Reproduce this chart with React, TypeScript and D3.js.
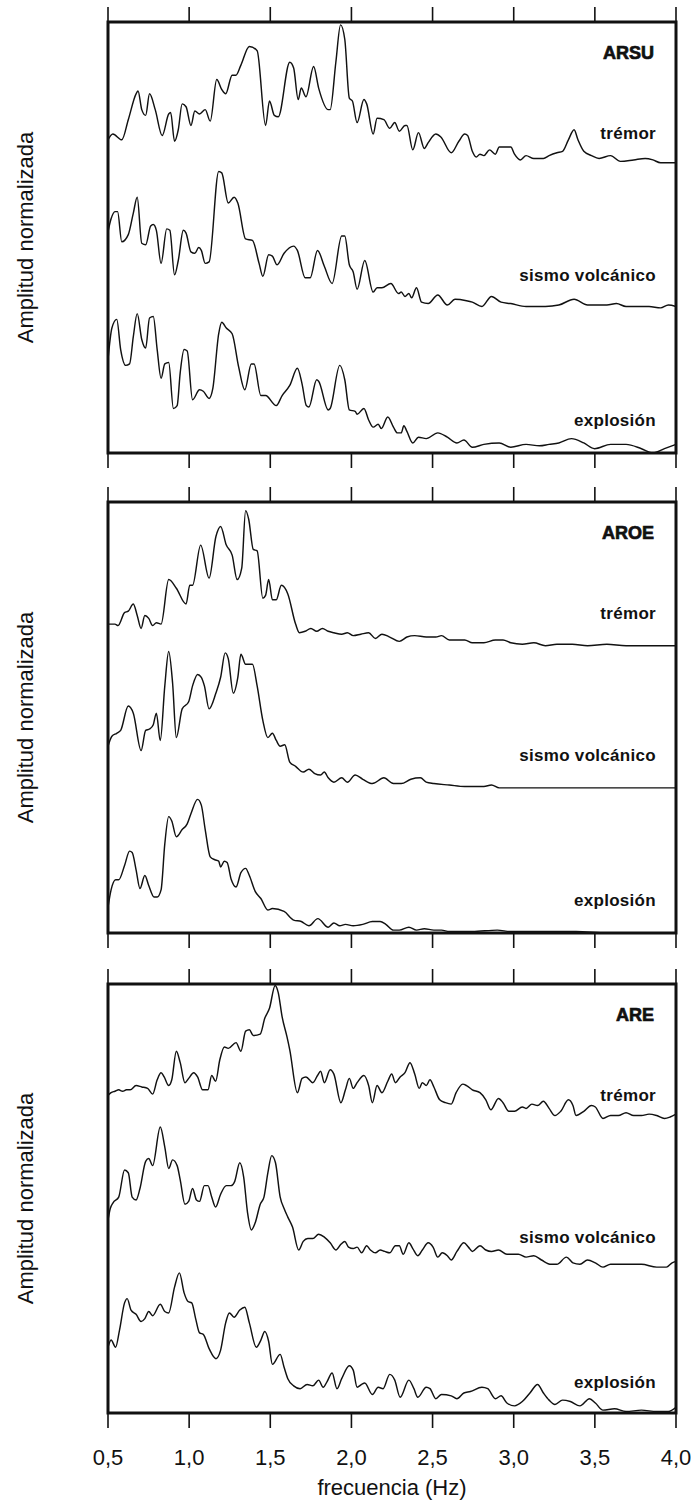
import React from "react";
import * as d3 from "d3";

// Normalized amplitude spectra, [frequency (Hz), amplitude 0..1]
const arsuTremor: [number, number][] = [[0.5,0.18],[0.53,0.22],[0.585,0.18],[0.625,0.32],[0.673,0.50],[0.685,0.52],[0.708,0.39],[0.732,0.35],[0.756,0.50],[0.791,0.39],[0.834,0.21],[0.874,0.36],[0.886,0.37],[0.91,0.17],[0.933,0.25],[0.957,0.43],[0.981,0.41],[1.011,0.28],[1.035,0.38],[1.064,0.36],[1.099,0.39],[1.13,0.31],[1.17,0.60],[1.201,0.53],[1.225,0.50],[1.265,0.63],[1.289,0.63],[1.319,0.70],[1.371,0.83],[1.419,0.80],[1.471,0.28],[1.495,0.45],[1.525,0.35],[1.549,0.34],[1.62,0.72],[1.644,0.68],[1.672,0.46],[1.691,0.54],[1.72,0.48],[1.767,0.69],[1.798,0.54],[1.857,0.39],[1.869,0.39],[1.904,0.72],[1.933,0.98],[1.959,0.88],[1.987,0.47],[2.006,0.45],[2.035,0.30],[2.077,0.46],[2.094,0.43],[2.134,0.22],[2.158,0.33],[2.20,0.32],[2.236,0.26],[2.267,0.30],[2.295,0.24],[2.33,0.28],[2.342,0.28],[2.378,0.11],[2.413,0.23],[2.449,0.12],[2.473,0.16],[2.52,0.22],[2.551,0.20],[2.615,0.09],[2.662,0.17],[2.698,0.22],[2.716,0.21],[2.745,0.10],[2.769,0.06],[2.792,0.08],[2.816,0.07],[2.851,0.11],[2.887,0.08],[2.911,0.13],[2.958,0.13],[2.982,0.13],[3.005,0.08],[3.041,0.04],[3.076,0.07],[3.124,0.05],[3.183,0.05],[3.218,0.07],[3.266,0.09],[3.301,0.10],[3.337,0.18],[3.372,0.25],[3.396,0.18],[3.432,0.10],[3.479,0.07],[3.526,0.05],[3.597,0.07],[3.657,0.03],[3.739,0.04],[3.81,0.05],[3.858,0.04],[3.905,0.02],[4.0,0.02]];

const arsuSismo: [number, number][] = [[0.5,0.54],[0.519,0.63],[0.543,0.68],[0.559,0.68],[0.585,0.47],[0.625,0.52],[0.656,0.67],[0.68,0.78],[0.708,0.46],[0.732,0.45],[0.763,0.58],[0.779,0.59],[0.798,0.55],[0.827,0.32],[0.862,0.56],[0.881,0.55],[0.91,0.24],[0.933,0.34],[0.964,0.55],[0.981,0.53],[1.011,0.40],[1.035,0.39],[1.059,0.43],[1.075,0.41],[1.099,0.32],[1.123,0.33],[1.182,0.96],[1.201,0.95],[1.241,0.74],[1.277,0.78],[1.30,0.74],[1.348,0.49],[1.39,0.48],[1.431,0.32],[1.454,0.23],[1.49,0.38],[1.513,0.37],[1.542,0.31],[1.585,0.39],[1.644,0.44],[1.667,0.41],[1.715,0.22],[1.746,0.22],[1.791,0.41],[1.833,0.30],[1.881,0.18],[1.94,0.51],[1.959,0.51],[1.987,0.31],[2.011,0.26],[2.035,0.14],[2.082,0.34],[2.134,0.12],[2.158,0.15],[2.188,0.15],[2.243,0.18],[2.29,0.11],[2.307,0.12],[2.33,0.09],[2.354,0.11],[2.371,0.08],[2.401,0.15],[2.432,0.05],[2.473,0.04],[2.532,0.10],[2.591,0.03],[2.638,0.07],[2.709,0.06],[2.745,0.05],[2.804,0.02],[2.863,0.09],[2.922,0.05],[2.982,0.04],[3.076,0.02],[3.195,0.02],[3.278,0.03],[3.372,0.07],[3.455,0.03],[3.574,0.03],[3.633,0.04],[3.692,0.02],[3.763,0.02],[3.834,0.02],[3.905,0.01],[3.953,0.03],[4.0,0.02]];

const arsuExplosion: [number, number][] = [[0.5,0.65],[0.524,0.87],[0.554,0.93],[0.578,0.72],[0.609,0.61],[0.633,0.62],[0.656,0.81],[0.68,0.97],[0.708,0.79],[0.732,0.73],[0.756,0.94],[0.779,0.95],[0.803,0.72],[0.827,0.52],[0.85,0.62],[0.874,0.63],[0.903,0.31],[0.926,0.33],[0.945,0.56],[0.969,0.72],[0.988,0.71],[1.021,0.37],[1.064,0.44],[1.087,0.43],[1.123,0.38],[1.146,0.45],[1.182,0.83],[1.201,0.91],[1.229,0.87],[1.265,0.83],[1.305,0.60],[1.343,0.44],[1.383,0.62],[1.40,0.62],[1.442,0.40],[1.471,0.40],[1.537,0.33],[1.573,0.40],[1.62,0.47],[1.667,0.59],[1.696,0.48],[1.722,0.33],[1.738,0.32],[1.786,0.51],[1.798,0.50],[1.857,0.30],[1.869,0.31],[1.928,0.61],[1.959,0.51],[1.987,0.30],[2.023,0.29],[2.035,0.27],[2.077,0.31],[2.106,0.23],[2.134,0.18],[2.165,0.20],[2.184,0.17],[2.224,0.25],[2.259,0.18],[2.283,0.14],[2.307,0.14],[2.323,0.19],[2.342,0.15],[2.378,0.07],[2.413,0.11],[2.461,0.10],[2.532,0.14],[2.591,0.11],[2.65,0.07],[2.693,0.09],[2.745,0.04],[2.816,0.06],[2.911,0.07],[2.982,0.04],[3.076,0.06],[3.159,0.05],[3.218,0.06],[3.278,0.07],[3.356,0.10],[3.432,0.07],[3.498,0.03],[3.597,0.06],[3.692,0.06],[3.787,0.03],[3.858,0.0],[3.929,0.03],[4.0,0.06]];

const aroeTremor: [number, number][] = [[0.5,0.15],[0.543,0.15],[0.562,0.14],[0.602,0.23],[0.625,0.24],[0.656,0.29],[0.68,0.21],[0.704,0.12],[0.727,0.21],[0.751,0.19],[0.775,0.14],[0.798,0.16],[0.827,0.15],[0.874,0.46],[0.921,0.40],[0.981,0.29],[1.004,0.42],[1.021,0.42],[1.071,0.70],[1.123,0.47],[1.165,0.76],[1.194,0.83],[1.229,0.70],[1.265,0.63],[1.296,0.46],[1.324,0.54],[1.348,0.94],[1.367,0.88],[1.395,0.67],[1.419,0.66],[1.454,0.33],[1.471,0.35],[1.49,0.46],[1.513,0.32],[1.537,0.32],[1.568,0.42],[1.608,0.36],[1.656,0.15],[1.679,0.09],[1.715,0.10],[1.75,0.12],[1.786,0.10],[1.821,0.12],[1.857,0.10],[1.892,0.09],[1.94,0.08],[1.975,0.09],[2.011,0.07],[2.058,0.08],[2.106,0.09],[2.148,0.05],[2.188,0.08],[2.236,0.06],[2.295,0.03],[2.342,0.06],[2.39,0.07],[2.461,0.06],[2.52,0.06],[2.555,0.07],[2.603,0.04],[2.65,0.04],[2.698,0.04],[2.745,0.02],[2.816,0.02],[2.887,0.04],[2.934,0.04],[2.982,0.02],[3.053,0.01],[3.124,0.02],[3.195,0.0],[3.266,0.01],[3.361,0.01],[3.455,0.0],[3.574,0.01],[3.692,0.0],[3.81,0.0],[3.929,0.0],[4.0,0.0]];

const aroeSismo: [number, number][] = [[0.5,0.30],[0.524,0.37],[0.554,0.39],[0.578,0.41],[0.625,0.58],[0.656,0.53],[0.704,0.27],[0.732,0.41],[0.756,0.42],[0.779,0.45],[0.798,0.53],[0.822,0.34],[0.85,0.72],[0.874,0.96],[0.898,0.74],[0.921,0.36],[0.957,0.56],[0.997,0.61],[1.021,0.72],[1.052,0.80],[1.075,0.78],[1.094,0.72],[1.123,0.56],[1.165,0.67],[1.194,0.78],[1.222,0.95],[1.241,0.91],[1.272,0.67],[1.30,0.78],[1.319,0.94],[1.348,0.87],[1.39,0.87],[1.419,0.72],[1.454,0.48],[1.485,0.36],[1.513,0.39],[1.537,0.34],[1.561,0.30],[1.589,0.31],[1.62,0.19],[1.656,0.16],[1.703,0.12],[1.738,0.14],[1.774,0.11],[1.81,0.10],[1.833,0.12],[1.857,0.08],[1.892,0.05],[1.94,0.08],[1.975,0.05],[2.023,0.10],[2.07,0.07],[2.129,0.04],[2.20,0.08],[2.259,0.04],[2.307,0.04],[2.366,0.07],[2.425,0.08],[2.461,0.05],[2.508,0.04],[2.603,0.03],[2.698,0.02],[2.816,0.02],[2.863,0.03],[2.911,0.01],[3.029,0.01],[3.218,0.01],[3.455,0.01],[3.692,0.01],[4.0,0.01]];

const aroeExplosion: [number, number][] = [[0.5,0.18],[0.519,0.30],[0.547,0.37],[0.566,0.37],[0.602,0.47],[0.633,0.57],[0.649,0.56],[0.673,0.44],[0.697,0.31],[0.727,0.40],[0.751,0.33],[0.784,0.25],[0.803,0.25],[0.827,0.30],[0.85,0.62],[0.874,0.81],[0.893,0.78],[0.921,0.67],[0.957,0.72],[0.988,0.76],[1.011,0.83],[1.052,0.93],[1.075,0.89],[1.099,0.72],[1.13,0.53],[1.158,0.51],[1.182,0.50],[1.194,0.46],[1.217,0.50],[1.234,0.49],[1.26,0.37],[1.289,0.32],[1.319,0.42],[1.348,0.45],[1.371,0.40],[1.407,0.29],[1.442,0.24],[1.485,0.16],[1.513,0.17],[1.585,0.15],[1.644,0.09],[1.691,0.08],[1.738,0.05],[1.793,0.10],[1.857,0.04],[1.892,0.07],[1.928,0.05],[1.963,0.06],[2.011,0.05],[2.07,0.06],[2.129,0.08],[2.177,0.08],[2.212,0.06],[2.259,0.02],[2.295,0.02],[2.354,0.04],[2.401,0.02],[2.449,0.03],[2.508,0.02],[2.555,0.02],[2.603,0.01],[2.674,0.01],[2.745,0.01],[2.899,0.02],[2.982,0.01],[3.10,0.01],[3.242,0.01],[3.384,0.01],[3.574,0.0],[3.81,0.0],[4.0,0.0]];

const areTremor: [number, number][] = [[0.5,0.22],[0.519,0.24],[0.543,0.25],[0.566,0.26],[0.59,0.25],[0.614,0.26],[0.637,0.26],[0.673,0.29],[0.708,0.28],[0.744,0.27],[0.775,0.23],[0.803,0.33],[0.827,0.38],[0.846,0.35],[0.874,0.29],[0.893,0.33],[0.921,0.53],[0.945,0.45],[0.974,0.31],[0.997,0.34],[1.028,0.38],[1.052,0.35],[1.083,0.26],[1.116,0.26],[1.139,0.36],[1.163,0.32],[1.189,0.47],[1.217,0.56],[1.241,0.55],[1.289,0.59],[1.319,0.53],[1.348,0.67],[1.371,0.68],[1.395,0.64],[1.438,0.65],[1.466,0.76],[1.495,0.83],[1.53,0.99],[1.549,0.94],[1.573,0.77],[1.603,0.63],[1.62,0.54],[1.667,0.24],[1.696,0.34],[1.72,0.35],[1.762,0.31],[1.791,0.36],[1.81,0.39],[1.833,0.31],[1.869,0.40],[1.892,0.37],[1.935,0.17],[1.963,0.26],[1.987,0.34],[2.011,0.27],[2.035,0.31],[2.077,0.36],[2.106,0.29],[2.129,0.17],[2.158,0.29],[2.188,0.24],[2.224,0.32],[2.248,0.37],[2.271,0.31],[2.30,0.35],[2.33,0.38],[2.361,0.45],[2.39,0.37],[2.418,0.27],[2.437,0.31],[2.461,0.29],[2.484,0.33],[2.508,0.28],[2.544,0.19],[2.579,0.17],[2.615,0.16],[2.645,0.24],[2.686,0.30],[2.709,0.29],[2.745,0.26],[2.792,0.24],[2.828,0.19],[2.859,0.12],[2.906,0.20],[2.934,0.17],[2.97,0.11],[3.005,0.11],[3.053,0.14],[3.076,0.13],[3.112,0.16],[3.147,0.15],[3.183,0.18],[3.218,0.13],[3.254,0.08],[3.29,0.11],[3.337,0.19],[3.365,0.15],[3.384,0.08],[3.432,0.11],[3.479,0.15],[3.503,0.14],[3.55,0.06],[3.597,0.08],[3.645,0.08],[3.692,0.10],[3.739,0.08],[3.787,0.08],[3.834,0.09],[3.881,0.08],[3.929,0.06],[3.964,0.07],[4.0,0.09]];

const areSismo: [number, number][] = [[0.5,0.35],[0.514,0.43],[0.531,0.47],[0.566,0.51],[0.602,0.70],[0.625,0.68],[0.649,0.51],[0.673,0.49],[0.697,0.57],[0.732,0.76],[0.751,0.78],[0.775,0.73],[0.822,1.0],[0.85,0.86],[0.874,0.71],[0.898,0.77],[0.926,0.73],[0.945,0.63],[0.974,0.46],[0.997,0.48],[1.021,0.57],[1.045,0.49],[1.064,0.48],[1.094,0.59],[1.116,0.59],[1.139,0.51],[1.163,0.44],[1.194,0.53],[1.229,0.59],[1.258,0.59],[1.281,0.62],[1.312,0.75],[1.336,0.65],[1.36,0.40],[1.383,0.28],[1.407,0.33],[1.438,0.46],[1.461,0.51],[1.485,0.68],[1.509,0.80],[1.532,0.75],[1.561,0.51],[1.585,0.43],[1.608,0.37],[1.637,0.30],[1.675,0.14],[1.703,0.20],[1.731,0.22],[1.762,0.22],[1.798,0.25],[1.833,0.23],[1.869,0.19],[1.904,0.14],[1.935,0.18],[1.959,0.20],[1.982,0.16],[2.011,0.15],[2.035,0.16],[2.063,0.12],[2.094,0.17],[2.117,0.14],[2.148,0.12],[2.177,0.14],[2.205,0.13],[2.236,0.12],[2.271,0.17],[2.295,0.17],[2.319,0.11],[2.354,0.19],[2.378,0.15],[2.409,0.10],[2.437,0.14],[2.473,0.19],[2.503,0.16],[2.532,0.09],[2.56,0.12],[2.591,0.10],[2.615,0.07],[2.65,0.13],[2.693,0.19],[2.721,0.16],[2.745,0.13],[2.792,0.17],[2.828,0.14],[2.863,0.13],[2.906,0.14],[2.958,0.11],[3.029,0.11],[3.076,0.09],[3.124,0.10],[3.171,0.07],[3.23,0.04],[3.266,0.04],[3.325,0.09],[3.365,0.05],[3.408,0.04],[3.455,0.07],[3.503,0.05],[3.55,0.02],[3.597,0.04],[3.692,0.04],[3.787,0.04],[3.881,0.02],[3.941,0.02],[3.976,0.05],[4.0,0.06]];

const areExplosion: [number, number][] = [[0.5,0.46],[0.519,0.51],[0.547,0.46],[0.571,0.58],[0.602,0.77],[0.618,0.80],[0.642,0.72],[0.673,0.69],[0.704,0.64],[0.727,0.66],[0.751,0.71],[0.775,0.68],[0.822,0.76],[0.85,0.71],[0.874,0.70],[0.91,0.88],[0.94,0.98],[0.969,0.84],[0.993,0.78],[1.016,0.77],[1.04,0.66],[1.064,0.56],[1.087,0.55],[1.123,0.45],[1.165,0.38],[1.194,0.44],[1.225,0.63],[1.248,0.70],[1.277,0.67],[1.312,0.72],[1.343,0.74],[1.371,0.63],[1.414,0.46],[1.442,0.51],[1.466,0.57],[1.49,0.50],[1.513,0.34],[1.561,0.41],[1.585,0.32],[1.608,0.24],[1.644,0.19],[1.684,0.17],[1.727,0.20],[1.762,0.19],[1.798,0.23],[1.826,0.18],[1.85,0.22],[1.881,0.28],[1.911,0.17],[1.94,0.24],[1.987,0.33],[2.011,0.30],[2.035,0.18],[2.063,0.20],[2.082,0.21],[2.129,0.13],[2.165,0.18],[2.195,0.17],[2.236,0.27],[2.267,0.23],[2.30,0.11],[2.354,0.23],[2.385,0.17],[2.409,0.11],[2.461,0.18],[2.484,0.17],[2.52,0.10],[2.555,0.13],[2.615,0.12],[2.65,0.10],[2.693,0.14],[2.733,0.15],[2.804,0.18],[2.84,0.17],[2.887,0.10],[2.922,0.12],[2.958,0.07],[3.005,0.05],[3.053,0.08],[3.10,0.14],[3.147,0.20],[3.183,0.14],[3.218,0.09],[3.254,0.06],[3.301,0.09],[3.349,0.08],[3.408,0.05],[3.467,0.10],[3.503,0.07],[3.55,0.02],[3.621,0.03],[3.692,0.01],[3.787,0.02],[3.881,0.01],[3.953,0.01],[4.0,0.04]];

const frequencyTicks = [0.5, 1.0, 1.5, 2.0, 2.5, 3.0, 3.5, 4.0];
const stationNames = ["ARSU", "AROE", "ARE"];
const eventNames = ["trémor", "sismo volcánico", "explosión"];
// vertical offset of each stacked spectrum (in amplitude units)
const eventOffsets = [2, 1, 0];

const stationSpectra = [
  [arsuTremor, arsuSismo, arsuExplosion],
  [aroeTremor, aroeSismo, aroeExplosion],
  [areTremor, areSismo, areExplosion],
];

const WIDTH = 695;
const HEIGHT = 1503;
const LEFT = 108;
const RIGHT = 676;
const PANEL_TOPS = [22, 502, 984];
const PANEL_BOTTOMS = [453, 933, 1413];
const TICK_LEN = 15;
const LABEL_BASELINES = [117, 259, 404]; // offsets from panel top
const FONT = "'Liberation Sans', Arial, Helvetica, sans-serif";

const fmtTick = (v: number) => d3.format(".1f")(v).replace(".", ",");

export default function App() {
  const x = d3.scaleLinear().domain([0.5, 4.0]).range([LEFT, RIGHT]);

  return (
    <svg
      width={WIDTH}
      height={HEIGHT}
      viewBox={`0 0 ${WIDTH} ${HEIGHT}`}
      style={{ position: "absolute", left: 0, top: 0, background: "#fff" }}
    >
      <rect x={0} y={0} width={WIDTH} height={HEIGHT} fill="#fff" />
      {stationSpectra.map((spectra, p) => {
        const top = PANEL_TOPS[p];
        const bottom = PANEL_BOTTOMS[p];
        const y = d3.scaleLinear().domain([0, 3]).range([bottom, top]);
        return (
          <g key={stationNames[p]}>
            {spectra.map((series, s) => {
              const line = d3
                .line<[number, number]>()
                .x((d) => x(d[0]))
                .y((d) => y(d[1] + eventOffsets[s]))
                .curve(d3.curveMonotoneX);
              return (
                <path
                  key={eventNames[s]}
                  d={line(series) || ""}
                  fill="none"
                  stroke="#111"
                  strokeWidth={1.45}
                  strokeLinejoin="round"
                />
              );
            })}
            {frequencyTicks.map((t) => (
              <g key={t}>
                <line x1={x(t)} x2={x(t)} y1={top} y2={top - TICK_LEN} stroke="#111" strokeWidth={1.6} />
                <line x1={x(t)} x2={x(t)} y1={bottom} y2={bottom + TICK_LEN} stroke="#111" strokeWidth={1.6} />
              </g>
            ))}
            <rect
              x={LEFT}
              y={top}
              width={RIGHT - LEFT}
              height={bottom - top}
              fill="none"
              stroke="#111"
              strokeWidth={3}
            />
            <text
              x={654}
              y={top + 37}
              textAnchor="end"
              fontFamily={FONT}
              fontSize={18}
              fontWeight={900}
              stroke="#111"
              strokeWidth={0.7}
              fill="#111"
            >
              {stationNames[p]}
            </text>
            {eventNames.map((name, s) => (
              <text
                key={name}
                x={656}
                y={top + LABEL_BASELINES[s]}
                textAnchor="end"
                fontFamily={FONT}
                fontSize={17}
                fontWeight={700}
                letterSpacing={0.3}
                fill="#111"
              >
                {name}
              </text>
            ))}
            <text
              transform={`translate(33, ${(top + bottom) / 2}) rotate(-90)`}
              textAnchor="middle"
              fontFamily={FONT}
              fontSize={22}
              fill="#111"
            >
              Amplitud normalizada
            </text>
          </g>
        );
      })}
      {frequencyTicks.map((t) => (
        <text
          key={t}
          x={x(t)}
          y={1465}
          textAnchor="middle"
          fontFamily={FONT}
          fontSize={22}
          fill="#111"
        >
          {fmtTick(t)}
        </text>
      ))}
      <text
        x={(LEFT + RIGHT) / 2}
        y={1495}
        textAnchor="middle"
        fontFamily={FONT}
        fontSize={22}
        fill="#111"
      >
        frecuencia (Hz)
      </text>
    </svg>
  );
}
